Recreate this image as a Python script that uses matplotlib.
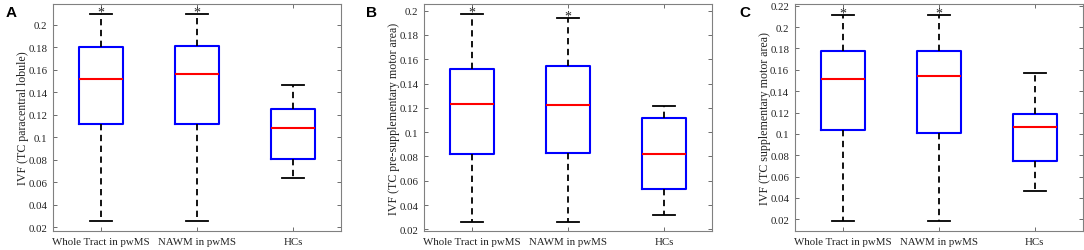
import matplotlib
matplotlib.use("Agg")
import matplotlib.pyplot as plt
from matplotlib.ticker import FuncFormatter
import numpy as np

groups = ["Whole Tract in pwMS", "NAWM in pwMS", "HCs"]
panel_letters = ["A", "B", "C"]
ylabels = [
    "IVF (TC paracentral lobule)",
    "IVF (TC pre-supplementary motor area)",
    "IVF (TC supplementary motor area)",
]

# box stats per panel: lower whisker, Q1, median, Q3, upper whisker
whislo = [[0.0259, 0.0259, 0.0639], [0.026, 0.026, 0.0315], [0.0181, 0.0188, 0.0465]]
q1 = [[0.1117, 0.1117, 0.0806], [0.0823, 0.0826, 0.0533], [0.1032, 0.101, 0.0742]]
med = [[0.1517, 0.156, 0.1084], [0.1232, 0.1227, 0.0818], [0.1512, 0.1543, 0.1066]]
q3 = [[0.1800, 0.181, 0.1254], [0.1517, 0.1544, 0.1116], [0.1773, 0.178, 0.1184]]
whishi = [[0.2094, 0.2094, 0.1463], [0.197, 0.1939, 0.1213], [0.2116, 0.211, 0.1568]]
starred = [[True, True, False], [True, True, False], [True, True, False]]

ylims = [(0.0167, 0.2183), (0.0186, 0.2055), (0.0091, 0.2216)]
ytick_max = [0.2, 0.2, 0.22]

serif = "Liberation Serif"
W, H = 1084, 251
fig = plt.figure(figsize=(W / 100, H / 100), dpi=100)

lefts = [53, 424, 794.7]
letter_x = [-0.163, -0.201, -0.193]
for i in range(3):
    ax = fig.add_axes([lefts[i] / W, 1 - 232 / H, 288 / W, 227 / H])
    stats = []
    for j in range(3):
        stats.append(dict(whislo=whislo[i][j], q1=q1[i][j], med=med[i][j],
                          q3=q3[i][j], whishi=whishi[i][j], fliers=[]))
    ax.bxp(stats, positions=[1, 2, 3], widths=0.46, showfliers=False,
           boxprops=dict(color="#0000ff", linewidth=1.5),
           medianprops=dict(color="#ff0000", linewidth=1.5),
           whiskerprops=dict(color="black", linewidth=1.3, linestyle=(0, (3.5, 2.5))),
           capprops=dict(color="black", linewidth=1.3),
           capwidths=0.23)
    for j in range(3):
        if starred[i][j]:
            ax.annotate("*", (j + 1, whishi[i][j]), xytext=(0, 1.5),
                        textcoords="offset points", ha="center", va="center",
                        fontsize=10, family=serif, color="#222222")
    ax.set_xlim(0.5, 3.5)
    ax.set_ylim(*ylims[i])
    ax.set_yticks(np.arange(0.02, ytick_max[i] + 0.001, 0.02))
    ax.yaxis.set_major_formatter(FuncFormatter(lambda v, p: "{:g}".format(round(v, 2))))
    ax.set_xticks([1, 2, 3])
    ax.set_xticklabels(groups)
    ax.tick_params(direction="in", length=3, color="#555555", width=0.6,
                   right=True, top=True, labelsize=7.8, pad=4)
    for lab in ax.get_xticklabels() + ax.get_yticklabels():
        lab.set_fontfamily(serif)
        lab.set_color("#222222")
    for sp in ax.spines.values():
        sp.set_color("#808080")
        sp.set_linewidth(0.8)
    ax.set_ylabel(ylabels[i], family=serif, fontsize=8.6, color="#222222", labelpad=-0.5)
    ax.text(letter_x[i], 0.995, panel_letters[i], transform=ax.transAxes,
            fontsize=11, fontweight="bold", family="Liberation Sans",
            ha="left", va="top")

fig.savefig("out.png", dpi=100)
